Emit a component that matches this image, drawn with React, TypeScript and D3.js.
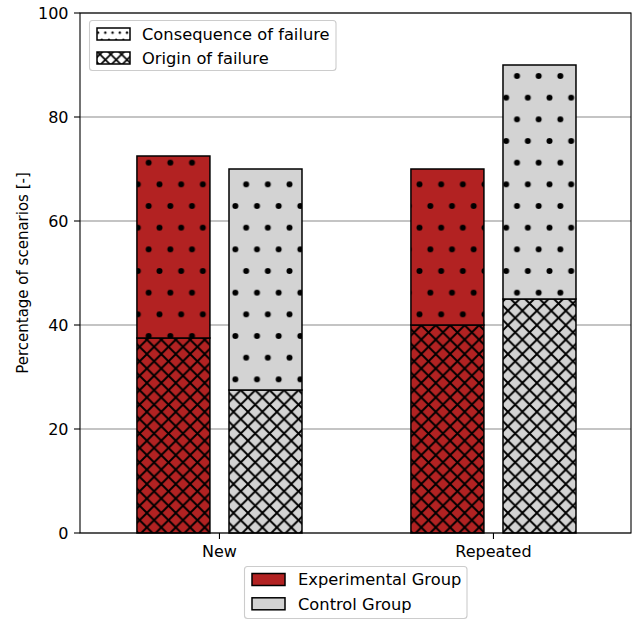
import React from "react";
import * as d3 from "d3";

const categories = ["New", "Repeated"];
const expOrigin = [37.5, 40];
const expConsequence = [35, 30];
const ctrlOrigin = [27.5, 45];
const ctrlConsequence = [42.5, 45];
const yTicks = [0, 20, 40, 60, 80, 100];
const groupNames = ["Experimental Group", "Control Group"];
const hatchNames = ["Consequence of failure", "Origin of failure"];

const W = 635;
const H = 621;
const FONT = "DejaVu Sans, sans-serif";
const EXP = "#b22222";
const CTRL = "#d3d3d3";

export default function App() {
  const left = 80, right = 631, top = 13, bottom = 533;
  const x = d3.scaleLinear().domain([-0.509, 1.502]).range([left, right]);
  const y = d3.scaleLinear().domain([0, 100]).range([bottom, top]);
  const bw = 0.2664;
  const off = 0.168;

  const series = [
    { color: EXP, origin: expOrigin, cons: expConsequence, dx: -off },
    { color: CTRL, origin: ctrlOrigin, cons: ctrlConsequence, dx: off },
  ];

  const s = 21.667;
  const c = 14.444;
  const lc = 10.833;
  const ls = 7.222;

  const segs: any[] = [];
  series.forEach((sr, si) => {
    categories.forEach((cat, i) => {
      const cx = i + sr.dx;
      const x0 = x(cx - bw / 2);
      const x1 = x(cx + bw / 2);
      const o = sr.origin[i];
      const t = o + sr.cons[i];
      segs.push({ key: `o${si}${i}`, x0, x1, y0: y(o), y1: y(0), color: sr.color, pat: "url(#cross)" });
      segs.push({ key: `c${si}${i}`, x0, x1, y0: y(t), y1: y(o), color: sr.color, pat: "url(#dots)" });
    });
  });

  return (
    <svg width={W} height={H} style={{ position: "absolute", left: 0, top: 0, background: "#fff" }} fontFamily={FONT}>
      <defs>
        <pattern id="dots" patternUnits="userSpaceOnUse" x={132.42} y={151.84} width={s} height={2 * s}>
          <circle cx={16.25} cy={10.83} r={3} fill="#000" />
          <circle cx={5.42} cy={32.5} r={3} fill="#000" />
        </pattern>
        <pattern id="cross" patternUnits="userSpaceOnUse" x={132.42} y={151.84} width={c} height={c}>
          <path d={`M0,0L${c},${c}M0,${c}L${c},0`} stroke="#000" strokeWidth={1.9} />
        </pattern>
        <pattern id="ldots" patternUnits="userSpaceOnUse" x={132.42} y={151.84} width={ls} height={2 * ls}>
          <circle cx={ls * 0.75} cy={ls * 0.5} r={1.2} fill="#000" />
          <circle cx={ls * 0.25} cy={ls * 1.5} r={1.2} fill="#000" />
        </pattern>
        <pattern id="lcross" patternUnits="userSpaceOnUse" x={132.42} y={151.84} width={lc} height={lc}>
          <path d={`M0,0L${lc},${lc}M0,${lc}L${lc},0`} stroke="#000" strokeWidth={1.7} />
        </pattern>
      </defs>

      {/* grid */}
      {yTicks.map((t) => (
        <line key={`g${t}`} x1={left} x2={right} y1={y(t)} y2={y(t)} stroke="#b0b0b0" strokeWidth={1.4} />
      ))}

      {/* bars */}
      {segs.map((sg) => (
        <g key={sg.key}>
          <rect x={sg.x0} y={sg.y0} width={sg.x1 - sg.x0} height={sg.y1 - sg.y0} fill={sg.color} />
          <rect x={sg.x0} y={sg.y0} width={sg.x1 - sg.x0} height={sg.y1 - sg.y0} fill={sg.pat} stroke="#000" strokeWidth={1.5} />
        </g>
      ))}

      {/* spines */}
      <rect x={left} y={top} width={right - left} height={bottom - top} fill="none" stroke="#000" strokeWidth={1.1} />

      {/* y ticks */}
      {yTicks.map((t) => (
        <g key={`yt${t}`}>
          <line x1={left - 6} x2={left} y1={y(t)} y2={y(t)} stroke="#000" strokeWidth={1.1} />
          <text x={left - 11.5} y={y(t) + 5.8} textAnchor="end" fontSize={16} fill="#000">{t}</text>
        </g>
      ))}

      {/* x ticks */}
      {categories.map((cat, i) => (
        <g key={`xt${cat}`}>
          <line x1={x(i)} x2={x(i)} y1={bottom} y2={bottom + 6} stroke="#000" strokeWidth={1.1} />
          <text x={x(i)} y={557} textAnchor="middle" fontSize={16} fill="#000">{cat}</text>
        </g>
      ))}

      {/* y label */}
      <text transform={`translate(28,${(top + bottom) / 2}) rotate(-90)`} textAnchor="middle" fontSize={15} fill="#000">
        Percentage of scenarios [-]
      </text>

      {/* hatch legend */}
      <g>
        <rect x={89.5} y={20.5} width={246.5} height={50} rx={3} fill="#fff" fillOpacity={0.8} stroke="#cccccc" strokeWidth={1.1} />
        {hatchNames.map((n, i) => {
          const cy = 34 + i * 24;
          return (
            <g key={n}>
              <rect x={97} y={cy - 6} width={33} height={12} fill="#fff" />
              <rect x={97} y={cy - 6} width={33} height={12} fill={i === 0 ? "url(#ldots)" : "url(#lcross)"} stroke="#000" strokeWidth={1.5} />
              <text x={142} y={cy + 5.8} fontSize={16.3} fill="#000">{n}</text>
            </g>
          );
        })}
      </g>

      {/* group legend */}
      <g>
        <rect x={244.5} y={566.5} width={222.5} height={52} rx={3} fill="#fff" fillOpacity={0.8} stroke="#cccccc" strokeWidth={1.1} />
        {groupNames.map((n, i) => {
          const cy = 579.5 + i * 24.3;
          return (
            <g key={n}>
              <rect x={252} y={cy - 6} width={33} height={12} fill={i === 0 ? EXP : CTRL} stroke="#000" strokeWidth={1.5} />
              <text x={298} y={cy + 5.8} fontSize={16.3} fill="#000">{n}</text>
            </g>
          );
        })}
      </g>
    </svg>
  );
}
